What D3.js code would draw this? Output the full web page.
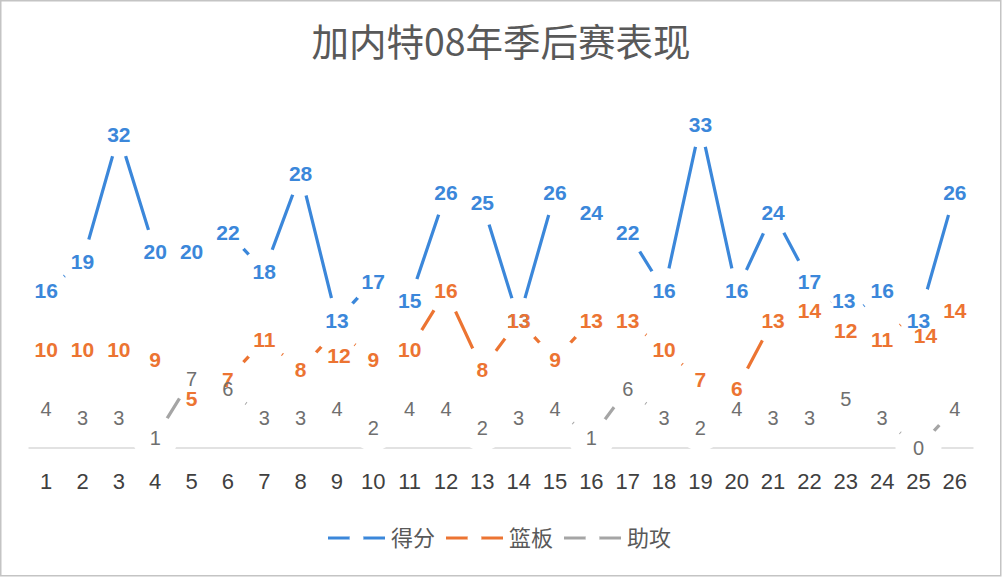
<!DOCTYPE html>
<html>
<head>
<meta charset="utf-8">
<script src="https://cdn.jsdelivr.net/npm/d3@7"></script>
<style>
  body { margin: 0; background: #fff; }
  text { font-family: "Liberation Sans", Arial, sans-serif; }
  .cjk { font-family: "Noto Sans CJK SC", "Noto Sans", sans-serif; }
</style>
</head>
<body>
<div id="chart"></div>
<script>
// games
const games = d3.range(1, 27);

// series values
const points   = [16, 19, 32, 20, 20, 22, 18, 28, 13, 17, 15, 26, 25, 13, 26, 24, 22, 16, 33, 16, 24, 17, 13, 16, 13, 26];
const rebounds = [10, 10, 10, 9, 5, 7, 11, 8, 12, 9, 10, 16, 8, 13, 9, 13, 13, 10, 7, 6, 13, 14, 12, 11, 14, 14];
const assists  = [4, 3, 3, 1, 7, 6, 3, 3, 4, 2, 4, 4, 2, 3, 4, 1, 6, 3, 2, 4, 3, 3, 5, 3, 0, 4];

const seriesNames = ["得分", "篮板", "助攻"];
const title = "加内特08年季后赛表现";

//chart size
const width = 1004;
const height = 578;

const colors = ["#3b87da", "#ec7432", "#a5a5a5"];
const labelColors = ["#3b87da", "#ec7432", "#6f6f6f"];

const series = [points, rebounds, assists].map((vals, i) => ({
  name: seriesNames[i],
  color: colors[i],
  labelColor: labelColors[i],
  bold: i < 2,
  values: vals.map((v, j) => ({ game: games[j], value: v }))
}));

const svg = d3.select("#chart")
  .append("svg")
  .attr("width", width)
  .attr("height", height);

// border
svg.append("rect")
  .attr("x", 0.75).attr("y", 0.75)
  .attr("width", 1000).attr("height", 575)
  .attr("fill", "#fff")
  .attr("stroke", "#c4c4c4")
  .attr("stroke-width", 1.5);

// title
svg.append("text")
  .attr("class", "cjk")
  .attr("x", 501)
  .attr("y", 56)
  .attr("text-anchor", "middle")
  .attr("font-size", 37.5)
  .attr("fill", "#595959")
  .text(title);

// scales
const xScale = d3.scaleBand()
  .domain(games)
  .range([28, 973])
  .padding(0);
const xc = d => xScale(d) + xScale.bandwidth() / 2;

const yScale = d3.scaleLinear()
  .domain([0, 35])
  .range([447.5, 104.8]);

// x-axis
const xAxis = svg.append("g")
  .attr("transform", `translate(0,${yScale(0)})`)
  .call(d3.axisBottom(xScale).tickSize(0).tickPadding(0));
xAxis.select(".domain").attr("stroke", "#d9d9d9").attr("stroke-width", 1.3);
xAxis.selectAll("text")
  .attr("y", 34)
  .attr("dy", "0.35em")
  .attr("font-size", 22)
  .attr("font-family", "'Liberation Sans', Arial, sans-serif")
  .attr("fill", "#404040");

const line = d3.line()
  .x(d => xc(d.game))
  .y(d => yScale(d.value));

// each series: line, then white markers
series.forEach(s => {
  const g = svg.append("g");
  g.append("path")
    .datum(s.values)
    .attr("fill", "none")
    .attr("stroke", s.color)
    .attr("stroke-width", 3.2)
    .attr("d", line);
  g.selectAll("circle")
    .data(s.values)
    .enter().append("circle")
    .attr("cx", d => xc(d.game))
    .attr("cy", d => yScale(d.value))
    .attr("r", 23)
    .attr("fill", "#fff");
});

// labels that were dragged by hand in the original
const labelNudge = {
  "篮板-9": [2, 25],
  "得分-23": [-2, -20],
  "篮板-25": [7, 25]
};
const nudge = (s, d) => labelNudge[s.name + "-" + d.game] || [0, 0];

// data labels on top
series.forEach(s => {
  svg.append("g").selectAll("text")
    .data(s.values)
    .enter().append("text")
    .attr("x", d => xc(d.game) + nudge(s, d)[0])
    .attr("y", d => yScale(d.value) + nudge(s, d)[1])
    .attr("dy", "0.36em")
    .attr("text-anchor", "middle")
    .attr("font-size", s.bold ? 21 : 20)
    .attr("font-weight", s.bold ? "bold" : "normal")
    .attr("fill", s.labelColor)
    .text(d => d.value);
});

// legend
const legend = svg.append("g").attr("transform", "translate(328,538)");
const item = legend.selectAll("g")
  .data(series)
  .enter().append("g")
  .attr("transform", (d, i) => `translate(${i * 118},0)`);
item.append("line")
  .attr("x1", 0).attr("x2", 57)
  .attr("stroke", d => d.color)
  .attr("stroke-width", 3.2);
item.append("circle")
  .attr("cx", 28.5).attr("r", 7)
  .attr("fill", "#fff");
item.append("text")
  .attr("class", "cjk")
  .attr("x", 63)
  .attr("dy", "0.36em")
  .attr("font-size", 22)
  .attr("fill", "#595959")
  .text(d => d.name);
</script>
</body>
</html>
